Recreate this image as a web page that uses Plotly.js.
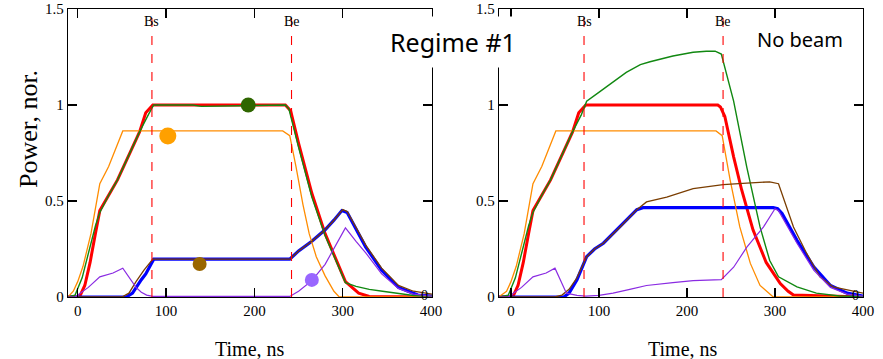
<!DOCTYPE html>
<html>
<head>
<meta charset="utf-8">
<script src="https://cdn.plot.ly/plotly-3.0.1.min.js"></script>
<style>html,body{margin:0;padding:0;background:#fff;}#chart{width:883px;height:359px;}</style>
</head>
<body>
<div id="chart"></div>
<script>
// ---- Data: Regime #1 (left panel) ----
const redL_x = [-11, 2, 8, 14, 20, 25, 35, 45, 60, 70, 77, 85, 235, 241, 250, 265, 280, 290, 303, 318, 330, 401];
const redL_y = [0, 0, 0.06, 0.18, 0.33, 0.45, 0.53, 0.61, 0.76, 0.86, 0.96, 1.0, 1.0, 0.97, 0.8, 0.54, 0.33, 0.22, 0.08, 0.02, 0.003, 0];
const greenL_x = [-11, -3, 5, 12, 20, 25, 35, 45, 60, 70, 80, 86, 130, 140, 235, 239, 250, 265, 280, 290, 303, 315, 330, 345, 363, 380, 401];
const greenL_y = [0, 0.01, 0.1, 0.22, 0.37, 0.44, 0.53, 0.61, 0.76, 0.86, 0.95, 1.0, 1.0, 0.993, 1.0, 0.98, 0.78, 0.52, 0.32, 0.21, 0.075, 0.055, 0.04, 0.03, 0.02, 0.008, 0.005];
const orangeL_x = [-11, -5, 0, 6, 15, 25, 35, 44, 51, 232, 240, 247, 255, 262, 270, 280, 290, 296, 401];
const orangeL_y = [0, 0.03, 0.08, 0.16, 0.33, 0.59, 0.68, 0.78, 0.865, 0.865, 0.84, 0.68, 0.48, 0.33, 0.21, 0.11, 0.03, 0.0, 0];
const purpleL_x = [-11, -3, 0, 12, 25, 40, 51, 60, 66, 72, 78, 85, 240, 250, 265, 280, 290, 303, 315, 326, 344, 363, 380, 401];
const purpleL_y = [0, 0, 0.01, 0.05, 0.105, 0.125, 0.15, 0.09, 0.05, 0.025, 0.01, 0.003, 0.003, 0.03, 0.085, 0.17, 0.25, 0.36, 0.29, 0.23, 0.12, 0.045, 0.015, 0.005];
const blueL_x = [-11, 55, 62, 66, 72, 77, 86, 240, 250, 265, 280, 290, 299, 305, 315, 326, 344, 363, 385, 401];
const blueL_y = [0, 0, 0.02, 0.05, 0.09, 0.12, 0.197, 0.197, 0.24, 0.29, 0.35, 0.40, 0.45, 0.44, 0.35, 0.26, 0.14, 0.05, 0.01, 0.005];
const brownL_x = [-11, 50, 58, 66, 75, 85, 240, 250, 265, 280, 290, 300, 305, 315, 326, 344, 363, 380, 401];
const brownL_y = [0, 0, 0.02, 0.08, 0.14, 0.197, 0.197, 0.24, 0.29, 0.35, 0.40, 0.455, 0.445, 0.36, 0.27, 0.15, 0.06, 0.03, 0.015];

// ---- Data: No beam (right panel) ----
const redR_x = [-14, 2, 8, 14, 20, 25, 35, 45, 60, 70, 77, 85, 235, 238, 243, 253, 262, 275, 290, 306, 315, 321, 400];
const redR_y = [0, 0, 0.06, 0.18, 0.33, 0.45, 0.53, 0.61, 0.76, 0.86, 0.96, 1.0, 1.0, 0.99, 0.94, 0.73, 0.56, 0.35, 0.18, 0.07, 0.03, 0.01, 0];
const greenR_x = [-14, -3, 5, 12, 20, 25, 35, 45, 60, 70, 80, 86, 101, 116, 131, 147, 158, 184, 207, 222, 232, 239, 253, 268, 283, 294, 304, 325, 347, 373, 400];
const greenR_y = [0, 0.01, 0.1, 0.22, 0.37, 0.44, 0.53, 0.61, 0.76, 0.86, 0.95, 1.02, 1.07, 1.12, 1.17, 1.21, 1.225, 1.255, 1.275, 1.28, 1.28, 1.265, 1.02, 0.675, 0.365, 0.19, 0.105, 0.053, 0.02, 0.005, 0.003];
const orangeR_x = [-14, -5, 0, 6, 15, 25, 35, 44, 51, 233, 240, 249, 260, 272, 283, 298, 400];
const orangeR_y = [0, 0.03, 0.08, 0.16, 0.33, 0.59, 0.68, 0.78, 0.865, 0.865, 0.84, 0.61, 0.365, 0.175, 0.06, 0.0, 0];
const blueR_x = [-14, 60, 66, 75, 86, 95, 105, 124, 143, 150, 298, 303, 308, 325, 344, 363, 382, 400];
const blueR_y = [0, 0, 0.02, 0.09, 0.21, 0.25, 0.28, 0.365, 0.455, 0.465, 0.465, 0.46, 0.435, 0.295, 0.157, 0.06, 0.02, 0.005];
const brownR_x = [-14, 50, 58, 66, 75, 86, 95, 105, 124, 143, 154, 177, 207, 241, 268, 294, 304, 321, 336, 351, 366, 400];
const brownR_y = [0, 0, 0.01, 0.04, 0.1, 0.21, 0.25, 0.28, 0.365, 0.455, 0.495, 0.52, 0.565, 0.585, 0.593, 0.6, 0.59, 0.365, 0.227, 0.105, 0.053, 0.02];
const purpleR_x = [-14, -3, 0, 12, 25, 40, 50, 57, 63, 75, 85, 100, 116, 135, 154, 184, 207, 239, 253, 268, 287, 300, 304, 325, 344, 363, 382, 400];
const purpleR_y = [0, 0, 0.01, 0.05, 0.105, 0.125, 0.15, 0.08, 0.02, 0.008, 0.005, 0.008, 0.02, 0.04, 0.06, 0.075, 0.085, 0.09, 0.155, 0.26, 0.365, 0.46, 0.45, 0.28, 0.14, 0.05, 0.015, 0.005];

// ---- Legend-like dots on left panel ----
const dotX = [193, 102, 138, 265];
const dotY = [1.0, 0.838, 0.172, 0.089];
const dotColors = ['#2f6600', '#ffa000', '#996600', '#9966ff'];
const dotSizes = [15, 17, 14, 14];

// ---- Beam start / end markers ----
const beamLabels = ['Bs', 'Be'];
const beamL = [84, 242];
const beamR = [83, 241];

const xTicks = [0, 100, 200, 300, 400];
const yTicks = [0, 0.5, 1, 1.5];
const yTickText = ['0', '0.5', '1', '1.5'];

const serif = 'Liberation Serif, Times New Roman, serif';
const comic = 'Comic Sans MS, Noto Sans, sans-serif';

function line(x, y, color, width, xa, ya) {
  return {x: x, y: y, type: 'scatter', mode: 'lines', xaxis: xa, yaxis: ya,
          line: {color: color, width: width, shape: 'linear'}, hoverinfo: 'skip', showlegend: false};
}

const C = {red: '#ff0000', green: '#118811', orange: '#ff8c00', blue: '#0000ff', brown: '#7a3d00', purple: '#8a2be2'};

const traces = [
  line(redL_x, redL_y, C.red, 3, 'x', 'y'),
  line(blueL_x, blueL_y, C.blue, 3.2, 'x', 'y'),
  line(orangeL_x, orangeL_y, C.orange, 1.3, 'x', 'y'),
  line(greenL_x, greenL_y, C.green, 1.4, 'x', 'y'),
  line(brownL_x, brownL_y, C.brown, 1.3, 'x', 'y'),
  line(purpleL_x, purpleL_y, C.purple, 1.2, 'x', 'y'),
  line(redR_x, redR_y, C.red, 3, 'x2', 'y2'),
  line(blueR_x, blueR_y, C.blue, 3.2, 'x2', 'y2'),
  line(orangeR_x, orangeR_y, C.orange, 1.3, 'x2', 'y2'),
  line(greenR_x, greenR_y, C.green, 1.4, 'x2', 'y2'),
  line(brownR_x, brownR_y, C.brown, 1.3, 'x2', 'y2'),
  line(purpleR_x, purpleR_y, C.purple, 1.2, 'x2', 'y2'),
  {x: dotX, y: dotY, type: 'scatter', mode: 'markers', xaxis: 'x', yaxis: 'y', opacity: 1,
   marker: {color: dotColors, size: dotSizes, opacity: 1, line: {width: 0}}, hoverinfo: 'skip', showlegend: false}
];

const tickFont = {family: serif, size: 15, color: '#000'};
function xax(domain, range) {
  return {domain: domain, range: range, showgrid: false, zeroline: false, showline: true, linecolor: '#000', linewidth: 1.2,
          mirror: 'ticks', ticks: 'inside', ticklen: 9, tickwidth: 1.2, tickcolor: '#000',
          tickvals: xTicks, ticktext: xTicks.map(String), tickfont: tickFont, fixedrange: true};
}
function yax(anchor) {
  return {domain: [62/359, 350/359], range: [0, 1.5], anchor: anchor, showgrid: false, zeroline: false, showline: true,
          linecolor: '#000', linewidth: 1.2, mirror: 'ticks', ticks: 'inside', ticklen: 9, tickwidth: 1.2, tickcolor: '#000',
          tickvals: yTicks, ticktext: yTickText, tickfont: tickFont, fixedrange: true};
}

const shapes = [];
const annotations = [];
[[beamL, 'x', 'y'], [beamR, 'x2', 'y2']].forEach(function (p) {
  p[0].forEach(function (bx, i) {
    shapes.push({type: 'line', xref: p[1], yref: p[2] + ' domain', x0: bx, x1: bx, y0: 0, y1: 1,
                 line: {color: '#ff0000', width: 1.1, dash: 'dash'}});
    annotations.push({xref: p[1], yref: 'paper', x: bx, y: 1 - 21/359, text: beamLabels[i], showarrow: false,
                      xanchor: 'center', yanchor: 'middle', font: {family: serif, size: 14, color: '#000'}});
  });
  annotations.push({xref: p[1], yref: p[2], x: 392, y: 0.01, text: '0', showarrow: false,
                    xanchor: 'center', yanchor: 'middle', font: {family: serif, size: 14, color: '#000'}});
});

annotations.push({xref: 'paper', yref: 'paper', x: 453/883, y: 1 - 42/359, text: 'Regime #1', showarrow: false,
                  xanchor: 'center', yanchor: 'middle', bgcolor: '#fff', borderpad: 8,
                  font: {family: comic, size: 25, color: '#000'}});
annotations.push({xref: 'paper', yref: 'paper', x: 800/883, y: 1 - 40/359, text: 'No beam', showarrow: false,
                  xanchor: 'center', yanchor: 'middle', font: {family: comic, size: 20, color: '#000'}});
annotations.push({xref: 'paper', yref: 'paper', x: 28/883, y: 1 - 129/359, text: 'Power, nor.', showarrow: false,
                  textangle: -90, xanchor: 'center', yanchor: 'middle', font: {family: serif, size: 26, color: '#000'}});
annotations.push({xref: 'paper', yref: 'paper', x: 250/883, y: 1 - 349/359, text: 'Time, ns', showarrow: false,
                  xanchor: 'center', yanchor: 'middle', font: {family: serif, size: 20, color: '#000'}});
annotations.push({xref: 'paper', yref: 'paper', x: 683/883, y: 1 - 349/359, text: 'Time, ns', showarrow: false,
                  xanchor: 'center', yanchor: 'middle', font: {family: serif, size: 20, color: '#000'}});

const layout = {
  width: 883, height: 359, margin: {l: 0, r: 0, t: 0, b: 0},
  paper_bgcolor: '#fff', plot_bgcolor: '#fff', showlegend: false,
  xaxis: Object.assign(xax([68/883, 432/883], [-11, 401]), {anchor: 'y'}),
  yaxis: yax('x'),
  xaxis2: Object.assign(xax([499/883, 863/883], [-13.6, 400]), {anchor: 'y2'}),
  yaxis2: yax('x2'),
  shapes: shapes,
  annotations: annotations
};

Plotly.newPlot('chart', traces, layout, {staticPlot: true, displayModeBar: false});
</script>
</body>
</html>
